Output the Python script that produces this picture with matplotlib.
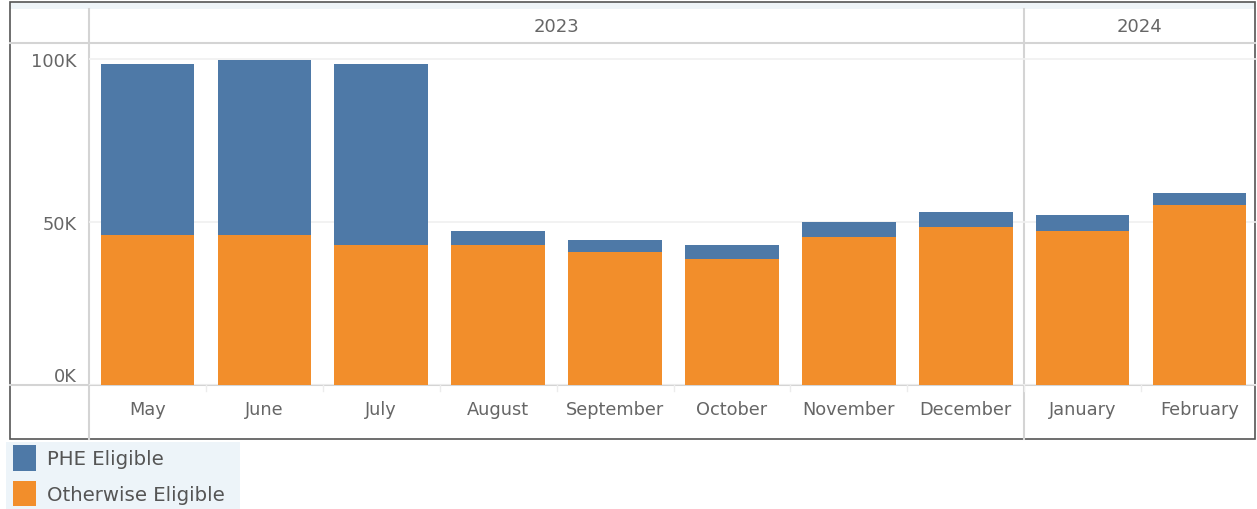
import numpy as np
import matplotlib.pyplot as plt
from matplotlib.patches import Rectangle

plt.rcParams['font.family'] = ['DejaVu Sans']

months = ["May", "June", "July", "August", "September", "October",
          "November", "December", "January", "February"]
years = ["2023", "2024"]
months_per_year = [8, 2]
otherwise_eligible = [45.9, 45.9, 43.0, 43.0, 40.8, 38.8, 45.5, 48.6, 47.1, 55.2]
phe_eligible = [52.6, 53.7, 55.5, 4.1, 3.7, 4.2, 4.6, 4.6, 5.0, 3.7]
series_names = ["PHE Eligible", "Otherwise Eligible"]

blue = "#4e79a7"
orange = "#f28e2b"
grey_text = "#666666"
line_col = "#d4d4d4"

W, H = 1257, 510
fig = plt.figure(figsize=(W / 100, H / 100), dpi=100)

# background / frame in pixel coords
bg = fig.add_axes([0, 0, 1, 1])
bg.set_xlim(0, W)
bg.set_ylim(H, 0)
bg.axis("off")

left, right, top_hdr, base = 89, 1258, 44, 386
frame_r = 1255
ax = fig.add_axes([left / W, (H - base) / H, (right - left) / W, (base - top_hdr) / H])

n = len(months)
x = np.arange(n)
ax.bar(x, otherwise_eligible, width=0.80, color=orange, zorder=3)
ax.bar(x, phe_eligible, width=0.80, bottom=otherwise_eligible, color=blue, zorder=3)
ax.set_xlim(-0.5, n - 0.5)
ax.set_ylim(0, 104.9)
ax.set_yticks([0, 50, 100])
ax.set_yticklabels(["0K", "50K", "100K"])
ax.yaxis.grid(True, color="#f0f0f0", linewidth=1.2, zorder=0)
ax.set_xticks(x)
ax.set_xticklabels(months)
ax.tick_params(axis="x", length=0, pad=11, labelsize=12.8, labelcolor=grey_text)
ax.tick_params(axis="y", length=0, pad=9, labelsize=12.8, labelcolor=grey_text)
ax.get_yticklabels()[0].set_va("bottom")
for s in ax.spines.values():
    s.set_visible(False)
ax.patch.set_alpha(0)

# header strip and frame
bg.add_patch(Rectangle((10, 3), frame_r - 10, 7, color="#eef4f8", lw=0))
bg.plot([10, frame_r], [top_hdr, top_hdr], color=line_col, lw=1.5)
bg.plot([10, frame_r], [base, base], color=line_col, lw=1.5)
bg.plot([left, left], [10, 440], color=line_col, lw=1.5)

# year headers
cell = (right - left) / n
start = 0
for yr, cnt in zip(years, months_per_year):
    x0 = left + start * cell
    x1 = min(left + (start + cnt) * cell, frame_r)
    bg.text((x0 + x1) / 2, 27, yr, ha="center", va="center", fontsize=13, color=grey_text)
    if start > 0:
        bg.plot([x0, x0], [10, 440], color=line_col, lw=1.5)
    start += cnt

# small ticks between months
for k in range(1, n):
    bg.plot([left + k * cell] * 2, [base, base + 6], color="#ececec", lw=1)

bg.add_patch(Rectangle((10, 3), frame_r - 10, 437, fill=False, ec="#555555", lw=1.2))

# legend
bg.add_patch(Rectangle((6, 443), 234, 67, color="#edf4f9", lw=0))
for i, (name, col) in enumerate(zip(series_names, [blue, orange])):
    y0 = 446 + i * 35.7
    bg.add_patch(Rectangle((13, y0), 23, 25.5, color=col, lw=0))
    bg.text(47, y0 + 13.5, name, ha="left", va="center", fontsize=14.2, color="#555555")

plt.savefig("out.png", dpi=100)
